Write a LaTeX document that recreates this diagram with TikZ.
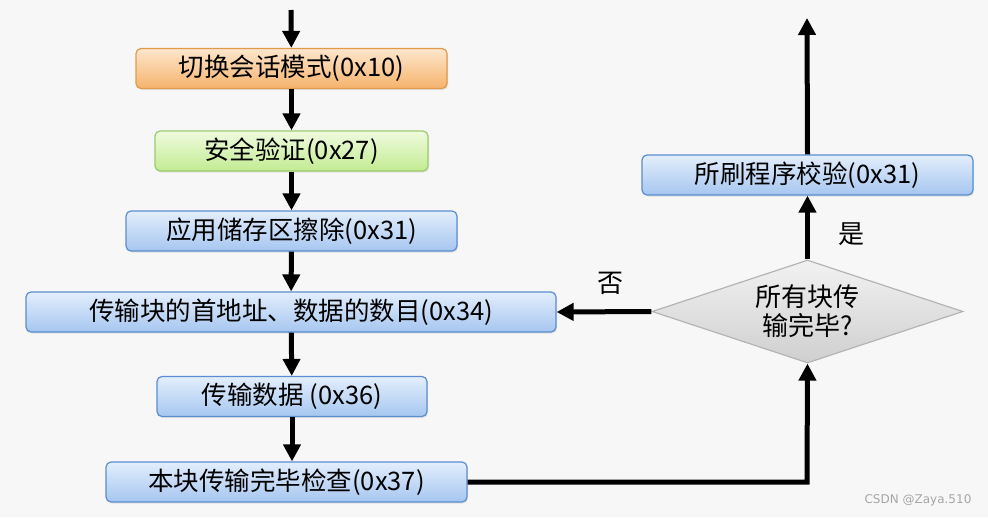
\documentclass[tikz,border=0pt]{standalone}
\usepackage{fontspec}
\newfontfamily\cjk{Noto Sans CJK SC}
\usetikzlibrary{arrows.meta,shapes.geometric,shadows}
\definecolor{bluetop}{HTML}{E3EEFC}
\definecolor{bluebot}{HTML}{A6C6F0}
\definecolor{blueedge}{HTML}{5A8ED0}
\definecolor{orgtop}{HTML}{FDE6CC}
\definecolor{orgbot}{HTML}{F6B36C}
\definecolor{orgedge}{HTML}{E09A4C}
\definecolor{grntop}{HTML}{F0FBDF}
\definecolor{grnbot}{HTML}{C2EB92}
\definecolor{grnedge}{HTML}{9DCB6C}
\definecolor{dmtop}{HTML}{F2F2F2}
\definecolor{dmbot}{HTML}{CFCFCF}
\definecolor{dmedge}{HTML}{B4B4B4}
\definecolor{bg}{HTML}{F7F7F7}
\tikzset{
  x=1pt,y=-1pt,
  box/.style={rectangle,rounded corners=5pt,minimum height=40pt,inner sep=0pt,
    font=\cjk\fontsize{25.5}{30}\selectfont,line width=1.2pt,
    drop shadow={shadow xshift=1pt,shadow yshift=-1.5pt,opacity=0.18}},
  bluebox/.style={box,draw=blueedge,top color=bluetop,bottom color=bluebot},
  orgbox/.style={box,draw=orgedge,top color=orgtop,bottom color=orgbot},
  grnbox/.style={box,draw=grnedge,top color=grntop,bottom color=grnbot},
  decision/.style={diamond,draw=dmedge,line width=1.2pt,top color=dmtop,bottom color=dmbot,
    minimum width=311pt,minimum height=103pt,inner sep=0pt,aspect=3,
    font=\cjk\fontsize{26}{29}\selectfont,align=center},
  flow/.style={line width=5pt,-{Triangle[width=17pt,length=17pt]}},
  lbl/.style={font=\cjk\fontsize{26}{30}\selectfont}
}
\begin{document}
\begin{tikzpicture}
\fill[bg] (0,0) rectangle (988,517);
\useasboundingbox (0,0) rectangle (988,517);
\coordinate (start) at (291,10);
\node[orgbox,minimum width=311pt] (b1) at (291.5,68.5) {切换会话模式(0x10)};
\node[grnbox,minimum width=273pt] (b2) at (291.5,151) {安全验证(0x27)};
\node[bluebox,minimum width=331pt] (b3) at (291.5,231) {应用储存区擦除(0x31)};
\node[bluebox,minimum width=530pt] (b4) at (291,312) {传输块的首地址、数据的数目(0x34)};
\node[bluebox,minimum width=270pt] (b5) at (292,396.5) {传输数据 (0x36)};
\node[bluebox,minimum width=361pt] (b6) at (286.5,482) {本块传输完毕检查(0x37)};
\node[decision] (d) at (807.5,311.5) {所有块传\\输完毕?};
\node[bluebox,minimum width=331pt] (b7) at (807.5,175) {所刷程序校验(0x31)};
\coordinate (end) at (807,18);
\coordinate (corner) at (807,482);

\draw[flow] (start) -- (b1);
\draw[flow] (b1) -- (b2);
\draw[flow] (b2) -- (b3);
\draw[flow] (b3) -- (b4);
\draw[flow] (b4) -- (b5);
\draw[flow] (b5.south) -- (b5.south |- b6.north);
\draw[flow] (b6.east) -- (corner) -- (d.south);
\draw[flow] (d.west) -- (b4.east);
\draw[flow] (d.north) -- (b7.south);
\draw[flow] (b7.north) -- (end);
\node[lbl] (no) at (610,283) {否};
\node[lbl] (yes) at (851,234) {是};
\node[font=\fontspec{DejaVu Sans}\fontsize{12}{14}\selectfont,text=black!35] (wm) at (918,500) {CSDN @Zaya.510};
\end{tikzpicture}
\end{document}
